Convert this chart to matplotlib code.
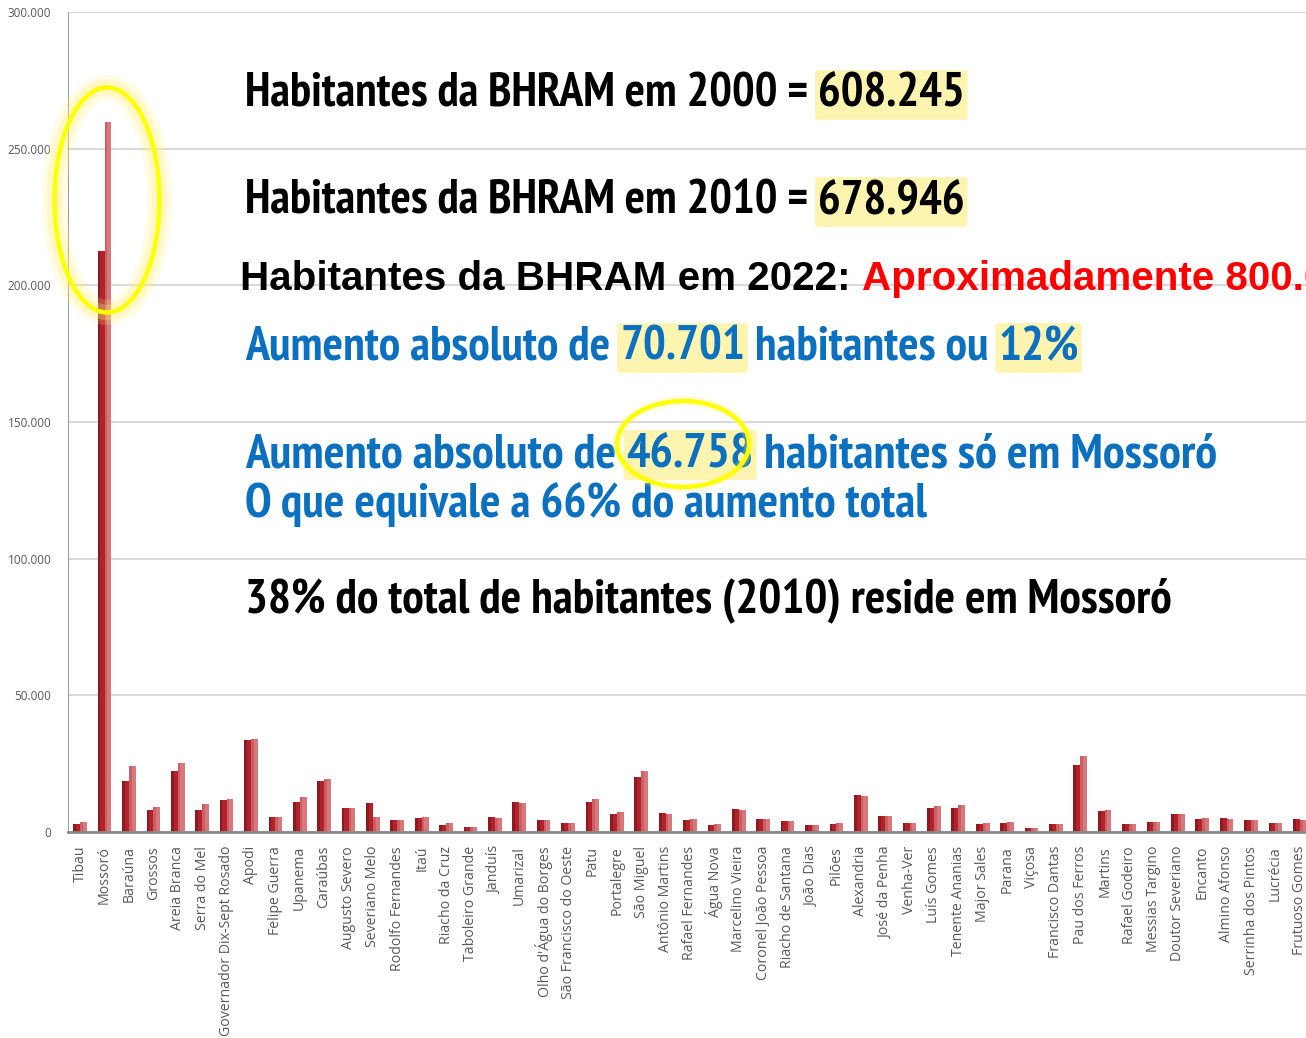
import numpy as np
import matplotlib
matplotlib.use("Agg")
from matplotlib import pyplot as plt
from matplotlib import font_manager as fm
from matplotlib.patches import Ellipse
from matplotlib.ticker import FuncFormatter

# municipalities of the BHRAM
municipios = [
    "Tibau", "Mossoró", "Baraúna", "Grossos", "Areia Branca", "Serra do Mel",
    "Governador Dix-Sept Rosado", "Apodi", "Felipe Guerra", "Upanema", "Caraúbas",
    "Augusto Severo", "Severiano Melo", "Rodolfo Fernandes", "Itaú", "Riacho da Cruz",
    "Taboleiro Grande", "Janduís", "Umarizal", "Olho d'Água do Borges",
    "São Francisco do Oeste", "Patu", "Portalegre", "São Miguel", "Antônio Martins",
    "Rafael Fernandes", "Água Nova", "Marcelino Vieira", "Coronel João Pessoa",
    "Riacho de Santana", "João Dias", "Pilões", "Alexandria", "José da Penha",
    "Venha-Ver", "Luís Gomes", "Tenente Ananias", "Major Sales", "Parana", "Viçosa",
    "Francisco Dantas", "Pau dos Ferros", "Martins", "Rafael Godeiro",
    "Messias Targino", "Doutor Severiano", "Encanto", "Almino Afonso",
    "Serrinha dos Pintos", "Lucrécia", "Frutuoso Gomes",
]

# population
pop_2000 = [
    3100, 212600, 18700, 8000, 22300, 7900, 11600, 33700, 5500, 11000, 18600,
    8900, 10600, 4400, 5100, 2700, 1900, 5500, 10900, 4300, 3300, 11000, 6700,
    20100, 6800, 4400, 2500, 8400, 4600, 4000, 2500, 2800, 13500, 5800, 3400,
    8900, 8900, 2900, 3300, 1400, 2900, 24500, 7700, 2900, 3500, 6600, 4900,
    5000, 4400, 3300, 4700,
]
pop_2010 = [
    3500, 259800, 24100, 9000, 25200, 10100, 12100, 34000, 5500, 12700, 19400,
    8900, 5500, 4400, 5500, 3300, 2000, 5300, 10500, 4300, 3400, 12000, 7200,
    22200, 6700, 4600, 2800, 8100, 4700, 3900, 2500, 3300, 13300, 5800, 3400,
    9400, 9900, 3400, 3800, 1300, 2900, 27700, 8000, 2800, 3800, 6500, 5000,
    4700, 4500, 3300, 4400,
]

y_ticks = [0, 50000, 100000, 150000, 200000, 250000, 300000]


def pick_font(prefs, fallback):
    for want in prefs:
        for f in fm.fontManager.ttflist:
            nm = (f.name + " " + f.fname).lower()
            if all(w in nm for w in want) and "italic" not in nm and "oblique" not in nm \
                    and f.style == "normal" and (f.weight in ("bold", 700) or "bold" in nm):
                return f.fname
    return fallback


wide_file = pick_font([["liberation sans", "liberationsans-bold"], ["arimo"]], None)
narrow_file = pick_font([["narrow"], ["roboto condensed"], ["condensed", "sans"],
                         ["condensed"]], wide_file)

W, H = 1306, 1038
fig = plt.figure(figsize=(W / 100, H / 100), dpi=100)
fig.patch.set_facecolor("white")
renderer = fig.canvas.get_renderer()

ax = fig.add_axes([68 / W, (H - 832) / H, 1244 / W, 820 / H])
x = np.arange(len(municipios))
bw = 0.28
ax.bar(x - bw / 2, pop_2000, bw, color="#b3222a", zorder=2)
ax.bar(x + bw / 2, pop_2010, bw, color="#d8787c", zorder=2)
# darker left strip for a bit of the 3D look
ax.bar(x - bw * 0.8, pop_2000, bw * 0.4, color="#8e1a1f", zorder=2)
ax.bar(x + bw * 0.2, pop_2010, bw * 0.4, color="#c86064", zorder=2)

ax.set_xlim(-0.5, len(municipios) - 0.5)
ax.set_ylim(0, 300000)
ax.set_yticks(y_ticks)
ax.yaxis.set_major_formatter(FuncFormatter(lambda v, p: f"{int(v):,}".replace(",", ".")))
ax.set_xticks(x)
ax.set_xticklabels(municipios, rotation=90, fontsize=10.2, color="#595959",
                   family=["Open Sans", "DejaVu Sans"])
ax.tick_params(axis="x", length=0, pad=10)
ax.tick_params(axis="y", length=0, pad=12, labelsize=8.5, labelcolor="#595959")
for lab in ax.get_yticklabels():
    lab.set_family(["Open Sans", "DejaVu Sans"])
ax.grid(axis="y", color="#d9d9d9", lw=1.5, zorder=0)
ax.set_axisbelow(True)
for s in ["top", "right"]:
    ax.spines[s].set_visible(False)
ax.spines["left"].set_color("#a0a0a0")
ax.spines["bottom"].set_color("#8a8a8a")
ax.spines["bottom"].set_linewidth(2)

# texts
blue = "#0b70bf"
hl = dict(boxstyle="round,pad=0.06", facecolor="#fdf4b0", edgecolor="none")


def props(fname, size):
    if fname:
        return dict(fontproperties=fm.FontProperties(fname=fname, size=size))
    return dict(fontsize=size, weight="bold", family="DejaVu Sans")


def fit_size(text, fname, width_px):
    t = fig.text(0, 0, text, **props(fname, 20))
    w = t.get_window_extent(renderer).width
    t.remove()
    return 20 * width_px / w


def line(parts, x0, y0, fname, width_px, measure=None):
    size = fit_size(measure or "".join(p[0] for p in parts), fname, width_px)
    prev = None
    for txt, col, box in parts:
        kw = dict(color=col, zorder=5, **props(fname, size))
        if box:
            kw["bbox"] = hl
        if prev is None:
            prev = fig.text(x0 / W, 1 - y0 / H, txt, ha="left", va="baseline", **kw)
        else:
            prev = ax.annotate(txt, xy=(1, 0), xycoords=prev, ha="left", va="bottom",
                               annotation_clip=False, **kw)
    return prev


line([("Habitantes da BHRAM em 2000 = ", "black", False), ("608.245", "black", True)],
     245, 107, narrow_file, 720)
line([("Habitantes da BHRAM em 2010 = ", "black", False), ("678.946", "black", True)],
     245, 214, narrow_file, 720)
line([("Habitantes da BHRAM em 2022: ", "black", False),
      ("Aproximadamente 800.000", "#ff0000", False)], 240, 290, wide_file, 610,
     measure="Habitantes da BHRAM em 2022:")
line([("Aumento absoluto de ", blue, False), ("70.701", blue, True),
      (" habitantes ou ", blue, False), ("12%", blue, True)], 245, 360, narrow_file, 833)
line([("Aumento absoluto de ", blue, False), ("46.758", blue, True),
      (" habitantes só em Mossoró", blue, False)], 245, 467, narrow_file, 975)
line([("O que equivale a 66% do aumento total", blue, False)], 245, 517, narrow_file, 683)
line([("38% do total de habitantes (2010) reside em Mossoró", "black", False)],
     245, 612, narrow_file, 927)


def ring(cx, cy, w, h, glow):
    for lw, a in glow:
        fig.patches.append(Ellipse((cx / W, 1 - cy / H), w / W, h / H, fill=False,
                                   edgecolor="#fff27a", lw=lw, alpha=a,
                                   transform=fig.transFigure, zorder=6))
    fig.patches.append(Ellipse((cx / W, 1 - cy / H), w / W, h / H, fill=False,
                               edgecolor="#ffff00", lw=3.2,
                               transform=fig.transFigure, zorder=7))


ring(107, 200, 105, 225, [(18, 0.2), (11, 0.3)])
ring(683, 444, 132, 86, [(7, 0.25)])

fig.savefig("out.png", dpi=100)
